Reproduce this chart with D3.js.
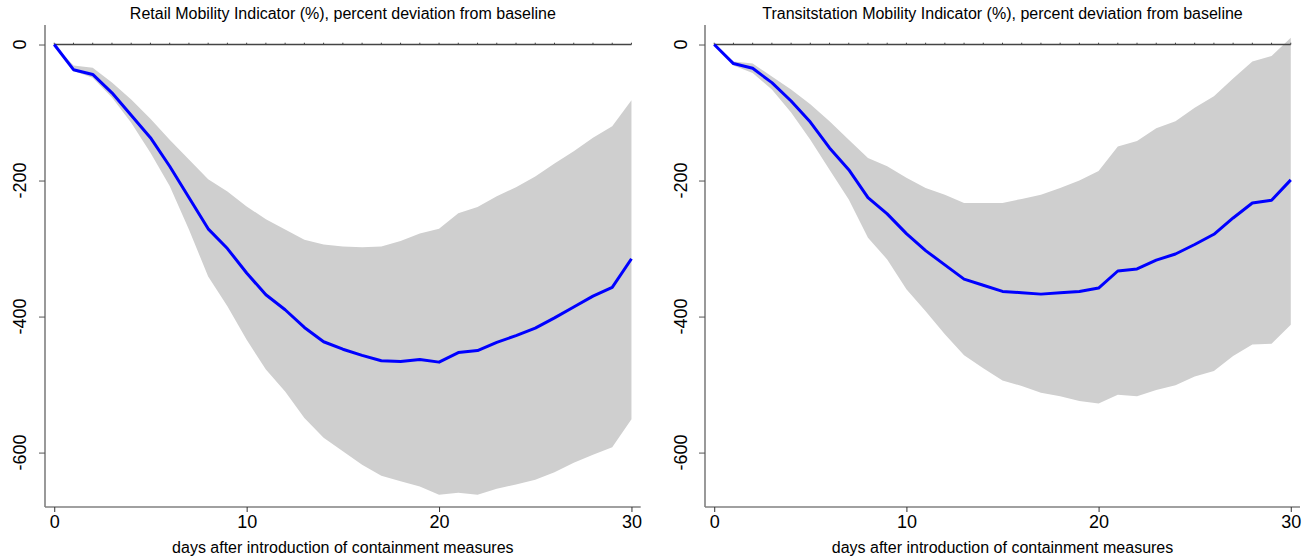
<!DOCTYPE html>
<html>
<head>
<meta charset="utf-8">
<script src="https://cdn.jsdelivr.net/npm/d3@7"></script>
<style>
  html, body { margin: 0; padding: 0; background: #fff; }
  svg { display: block; }
  text { font-family: "Liberation Sans", Arial, Helvetica, sans-serif; fill: #000; }
</style>
</head>
<body>
<svg id="chart" width="1307" height="558"></svg>
<script>
// ---- data ----
const days = d3.range(0, 31);
const titles = [
  "Retail Mobility Indicator (%), percent deviation from baseline",
  "Transitstation Mobility Indicator (%), percent deviation from baseline"
];
const xLabel = "days after introduction of containment measures";
const xTicks = [0, 10, 20, 30];
const yTicks = [0, -200, -400, -600];

const retailMid = [0, -37, -44, -71, -104, -137, -179, -225, -271, -300, -336, -368, -390, -416, -437,
  -448, -457, -465, -466, -463, -467, -453, -450, -438, -428, -417, -402, -386, -370, -357, -315];
const retailUpper = [0, -31, -34, -56, -81, -109, -140, -169, -198, -216, -238, -257, -272, -287, -294,
  -297, -298, -297, -289, -278, -271, -248, -239, -223, -210, -194, -175, -157, -137, -120, -82];
const retailLower = [0, -39, -49, -78, -115, -159, -208, -272, -341, -385, -434, -478, -510, -549, -578,
  -598, -618, -634, -642, -650, -662, -659, -662, -653, -647, -640, -629, -615, -603, -592, -551];

const transitMid = [0, -28, -35, -56, -83, -114, -152, -184, -225, -249, -278, -303, -324, -345, -354,
  -363, -365, -367, -365, -363, -358, -333, -330, -317, -308, -294, -279, -255, -233, -229, -199];
const transitUpper = [0, -25, -28, -47, -66, -88, -113, -140, -167, -179, -196, -211, -221, -233, -233,
  -233, -227, -221, -211, -200, -186, -150, -142, -123, -113, -93, -76, -50, -25, -17, 10];
const transitLower = [0, -31, -42, -66, -100, -140, -184, -228, -284, -316, -360, -392, -426, -457, -476,
  -494, -502, -512, -517, -524, -528, -515, -517, -508, -501, -488, -480, -458, -441, -440, -412];

const panels = [
  { title: titles[0], mid: retailMid, upper: retailUpper, lower: retailLower, left: 45, right: 640.7, labelX: 20 },
  { title: titles[1], mid: transitMid, upper: transitUpper, lower: transitLower, left: 705, right: 1300, labelX: 681 }
];

// ---- drawing ----
const svg = d3.select("#chart");
const plotTop = 25, plotBottom = 507;
const fmt = d => String(d);

panels.forEach(p => {
  const g = svg.append("g");
  const x = d3.scaleLinear().domain([-0.48, 30.48]).range([p.left, p.right]);
  const y = d3.scaleLinear().domain([-680, 28.7]).range([plotBottom, plotTop]);

  // confidence band
  const area = d3.area()
    .x((d, i) => x(days[i]))
    .y0((d, i) => y(p.lower[i]))
    .y1((d, i) => y(p.upper[i]));
  g.append("path").datum(p.mid).attr("d", area).attr("fill", "#cfcfcf");

  // zero line with small day marks
  g.append("line")
    .attr("x1", x(0)).attr("x2", x(30))
    .attr("y1", y(0)).attr("y2", y(0))
    .attr("stroke", "#444").attr("stroke-width", 1.5);
  g.selectAll(".zt").data(days).enter().append("line")
    .attr("x1", d => x(d)).attr("x2", d => x(d))
    .attr("y1", y(0)).attr("y2", y(0) - 1.8)
    .attr("stroke", "#444").attr("stroke-width", 1);

  // mid line
  const line = d3.line().x((d, i) => x(days[i])).y(d => y(d));
  g.append("path").datum(p.mid).attr("d", line)
    .attr("fill", "none").attr("stroke", "#0000ff").attr("stroke-width", 3)
    .attr("stroke-linejoin", "round");

  // y axis
  const ya = g.append("g").attr("transform", `translate(${p.left},0)`)
    .call(d3.axisLeft(y).tickValues(yTicks).tickSize(6).tickFormat(fmt));
  ya.select(".domain").attr("d", `M0,${plotTop}V${plotBottom}`).attr("stroke", "#808080").attr("stroke-width", 1.6);
  ya.selectAll(".tick line").attr("stroke", "#555").attr("stroke-width", 1);
  ya.selectAll(".tick text").remove();
  g.selectAll(".ylab").data(yTicks).enter().append("text")
    .attr("transform", d => `translate(${p.labelX},${y(d)}) rotate(-90)`)
    .attr("text-anchor", "middle").attr("dy", "0.35em")
    .style("font-size", "18px")
    .text(fmt);

  // x axis
  const xa = g.append("g").attr("transform", `translate(0,${plotBottom})`)
    .call(d3.axisBottom(x).tickValues(xTicks).tickSize(5).tickPadding(3).tickFormat(fmt));
  xa.select(".domain").attr("d", `M${p.left},0H${p.right}`).attr("stroke", "#808080").attr("stroke-width", 1.6);
  xa.selectAll(".tick line").attr("stroke", "#333").attr("stroke-width", 1);
  xa.selectAll(".tick text").style("font-size", "18px").style("font-family", "'Liberation Sans', Arial, sans-serif").attr("fill", "#000");

  // x label
  g.append("text")
    .attr("x", (p.left + p.right) / 2).attr("y", 553)
    .attr("text-anchor", "middle").style("font-size", "16px")
    .text(xLabel);

  // title
  g.append("text")
    .attr("x", (p.left + p.right) / 2).attr("y", 19)
    .attr("text-anchor", "middle").style("font-size", "16px")
    .text(p.title);
});
</script>
</body>
</html>
